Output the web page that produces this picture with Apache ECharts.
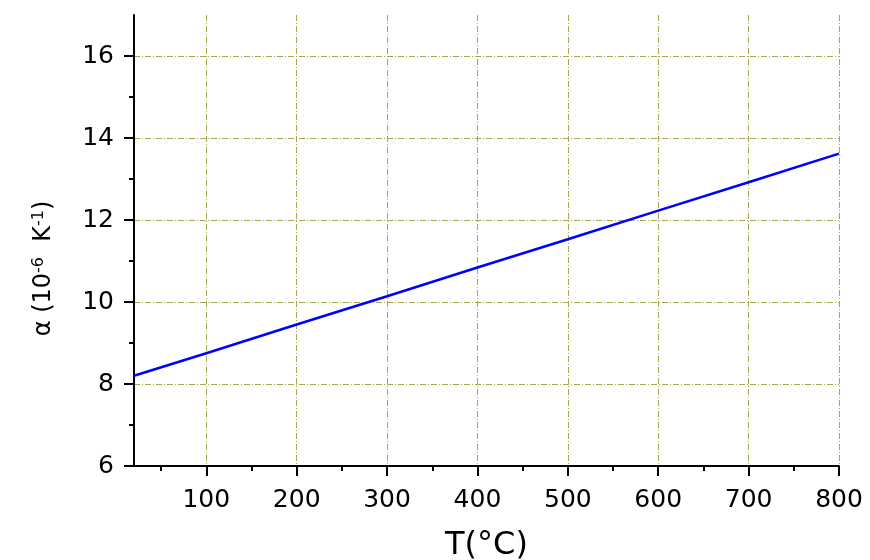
<!DOCTYPE html>
<html><head><meta charset="utf-8">
<script src="https://cdn.jsdelivr.net/npm/echarts@6/dist/echarts.min.js"></script>
<style>html,body{margin:0;padding:0;background:#fff}#c{width:870px;height:560px}</style>
</head><body><div id="c"></div>
<script>
const temps = [20, 100, 200, 300, 400, 500, 600, 700, 800];
const alpha = [8.2, 8.75, 9.45, 10.14, 10.84, 11.53, 12.23, 12.92, 13.62];
const xMajor = [100, 200, 300, 400, 500, 600, 700, 800];
const xMinor = [50, 150, 250, 350, 450, 550, 650, 750];
const yMajor = [6, 8, 10, 12, 14, 16];
const yMinor = [7, 9, 11, 13, 15];
const xName = 'T(°C)';

const font = 'DejaVu Sans';
const gridLine = {show: true, lineStyle: {color: '#aaa84e', width: 1, type: [6, 2, 1, 2]}};
const chart = echarts.init(document.getElementById('c'));
chart.setOption({
  animation: false,
  grid: {left: 134, right: 31, top: 15, bottom: 94, containLabel: false, outerBoundsMode: 'none'},
  xAxis: [
    {type: 'value', min: 20, max: 800, position: 'bottom',
     name: xName, nameLocation: 'middle', nameGap: 64,
     nameTextStyle: {fontFamily: font, fontSize: 32, color: '#000'},
     axisLine: {show: true, onZero: false, lineStyle: {color: '#000', width: 2}},
     axisTick: {show: true, length: 10, customValues: xMajor, lineStyle: {color: '#000', width: 2}},
     axisLabel: {customValues: xMajor, fontFamily: font, fontSize: 25, color: '#000', margin: 22},
     splitLine: gridLine},
    {type: 'value', min: 20, max: 800, position: 'bottom',
     axisLine: {show: false, onZero: false},
     axisTick: {show: true, length: 5, customValues: xMinor, lineStyle: {color: '#000', width: 2}},
     axisLabel: {show: false}, splitLine: {show: false}}
  ],
  yAxis: [
    {type: 'value', min: 6, max: 17, position: 'left',
     name: '{a|α (10}{s|-6}{a|  K}{s|-1}{a|)}', nameLocation: 'middle', nameGap: 77, nameRotate: 90,
     nameTextStyle: {padding: [0, 56, 0, 0], rich: {
       a: {fontFamily: font, fontSize: 24, color: '#000'},
       s: {fontFamily: font, fontSize: 16, color: '#000', verticalAlign: 'top', padding: [0, 0, 10, 0]}
     }},
     axisLine: {show: true, onZero: false, lineStyle: {color: '#000', width: 2}},
     axisTick: {show: true, length: 10, customValues: yMajor, lineStyle: {color: '#000', width: 2}},
     axisLabel: {customValues: yMajor, fontFamily: font, fontSize: 25, color: '#000', margin: 20},
     splitLine: gridLine},
    {type: 'value', min: 6, max: 17, position: 'left',
     axisLine: {show: false, onZero: false},
     axisTick: {show: true, length: 5, customValues: yMinor, lineStyle: {color: '#000', width: 2}},
     axisLabel: {show: false}, splitLine: {show: false}}
  ],
  series: [{
    type: 'line', xAxisIndex: 0, yAxisIndex: 0, showSymbol: false,
    data: temps.map((t, i) => [t, alpha[i]]),
    lineStyle: {color: '#0000ff', width: 2.5}, z: 5
  }]
});
</script></body></html>
